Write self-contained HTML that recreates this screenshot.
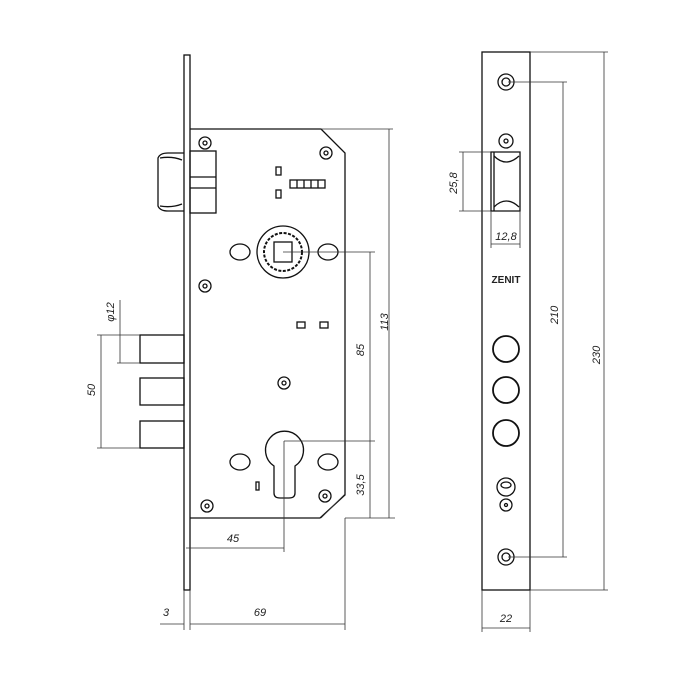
<!DOCTYPE html>
<html><head><meta charset="utf-8"><style>html,body{margin:0;padding:0;background:#fff}svg{display:block}</style></head><body>
<svg width="700" height="700" viewBox="0 0 700 700" xmlns="http://www.w3.org/2000/svg" font-family="Liberation Sans, sans-serif" font-style="italic">
<g fill="none" stroke="#111" stroke-width="1.3">
<!-- faceplate -->
<rect x="184" y="55" width="6" height="535"/>
<!-- body -->
<path d="M190 129 H321 L345 153 V495 L320 518 H190"/>
<!-- latch -->
<path d="M184 153 H168 Q160 153 158 158 V206 Q160 211 168 211 H184"/>
<path d="M160 158 Q172 156 182 160 M160 206 Q172 208 182 204"/>
<rect x="190" y="151" width="26" height="62"/>
<path d="M190 177 H216 M190 188 H216"/>
<!-- bolts -->
<rect x="140" y="335" width="44" height="28"/>
<rect x="140" y="378" width="44" height="27"/>
<rect x="140" y="421" width="44" height="27"/>
<!-- key hub -->
<circle cx="283" cy="252" r="26"/>
<circle cx="283" cy="252" r="19" stroke-dasharray="3 1.5" stroke-width="2"/>
<rect x="274" y="242" width="18" height="20"/>
<ellipse cx="240" cy="252" rx="10" ry="8"/>
<ellipse cx="328" cy="252" rx="10" ry="8"/>
<!-- screws -->
<g>
<circle cx="205" cy="143" r="6"/><circle cx="205" cy="143" r="2"/>
<circle cx="326" cy="153" r="6"/><circle cx="326" cy="153" r="2"/>
<circle cx="205" cy="286" r="6"/><circle cx="205" cy="286" r="2"/>
<circle cx="284" cy="383" r="6"/><circle cx="284" cy="383" r="2"/>
<circle cx="207" cy="506" r="6"/><circle cx="207" cy="506" r="2"/>
<circle cx="325" cy="496" r="6"/><circle cx="325" cy="496" r="2"/>
</g>
<!-- euro cylinder -->
<path d="M274 466 A19 19 0 1 1 295 466 V493 Q295 498 289 498 H280 Q274 498 274 493 Z"/>
<ellipse cx="240" cy="462" rx="10" ry="8"/>
<ellipse cx="328" cy="462" rx="10" ry="8"/>
<rect x="256" y="482" width="3" height="8"/>
<rect x="276" y="167" width="5" height="8"/>
<rect x="276" y="190" width="5" height="8"/>
<rect x="290" y="180" width="35" height="8"/>
<path d="M297 180 V188 M304 180 V188 M311 180 V188 M318 180 V188"/>
<rect x="297" y="322" width="8" height="6"/>
<rect x="320" y="322" width="8" height="6"/>
<!-- strip -->
<rect x="482" y="52" width="48" height="538"/>
<circle cx="506" cy="82" r="8"/><circle cx="506" cy="82" r="4"/>
<circle cx="506" cy="557" r="8"/><circle cx="506" cy="557" r="4"/>
<circle cx="506" cy="141" r="7"/><circle cx="506" cy="141" r="2"/>
<path d="M491 152 H520 V211 H491 Z M494 152 V211"/>
<path d="M494 156 Q506 168 519 156 M494 207 Q506 195 519 207"/>
<circle cx="506" cy="349" r="13" stroke-width="1.8"/>
<circle cx="506" cy="390" r="13" stroke-width="1.8"/>
<circle cx="506" cy="433" r="13" stroke-width="1.8"/>
<circle cx="506" cy="487" r="9"/><ellipse cx="506" cy="485" rx="5" ry="3"/>
<circle cx="506" cy="505" r="6"/><circle cx="506" cy="505" r="1.5"/>
</g>
<!-- dimension lines -->
<g fill="none" stroke="#333" stroke-width="0.8">
<path d="M321 129 H393 M389 129 V518 M345 518 H395"/>
<path d="M283 252 H375 M370 252 V518 M284 441 H375"/>
<path d="M284 441 V552 M186 548 H284"/>
<path d="M184 590 V630 M190 590 V630 M345 518 V630 M160 624 H184 M190 624 H345"/>
<path d="M140 335 H97 M140 448 H97 M101 335 V448 M120 300 V363 M140 363 H117"/>
<path d="M321 518 L345 494"/>
<path d="M530 52 H608 M530 590 H608 M604 52 V590 M508 82 H567 M508 557 H567 M563 82 V557"/>
<path d="M491 152 H459 M491 211 H459 M463 152 V211"/>
<path d="M491 211 V248 M520 211 V248 M491 244 H520"/>
<path d="M482 590 V632 M530 590 V632 M482 628 H530"/>
</g>
<g fill="#222" font-size="11" text-anchor="middle">
<text transform="translate(388,322) rotate(-90)">113</text>
<text transform="translate(364,350) rotate(-90)">85</text>
<text transform="translate(364,485) rotate(-90)">33,5</text>
<text x="233" y="542">45</text>
<text x="260" y="616">69</text>
<text x="166" y="616">3</text>
<text transform="translate(95,390) rotate(-90)">50</text>
<text transform="translate(114,312) rotate(-90)">φ12</text>
<text transform="translate(600,355) rotate(-90)">230</text>
<text transform="translate(558,315) rotate(-90)">210</text>
<text transform="translate(457,183) rotate(-90)">25,8</text>
<text x="506" y="240">12,8</text>
<text x="506" y="622">22</text>
<text x="506" y="283" font-size="10" font-weight="bold" font-style="normal">ZENIT</text>
</g>
</svg>
</body></html>
